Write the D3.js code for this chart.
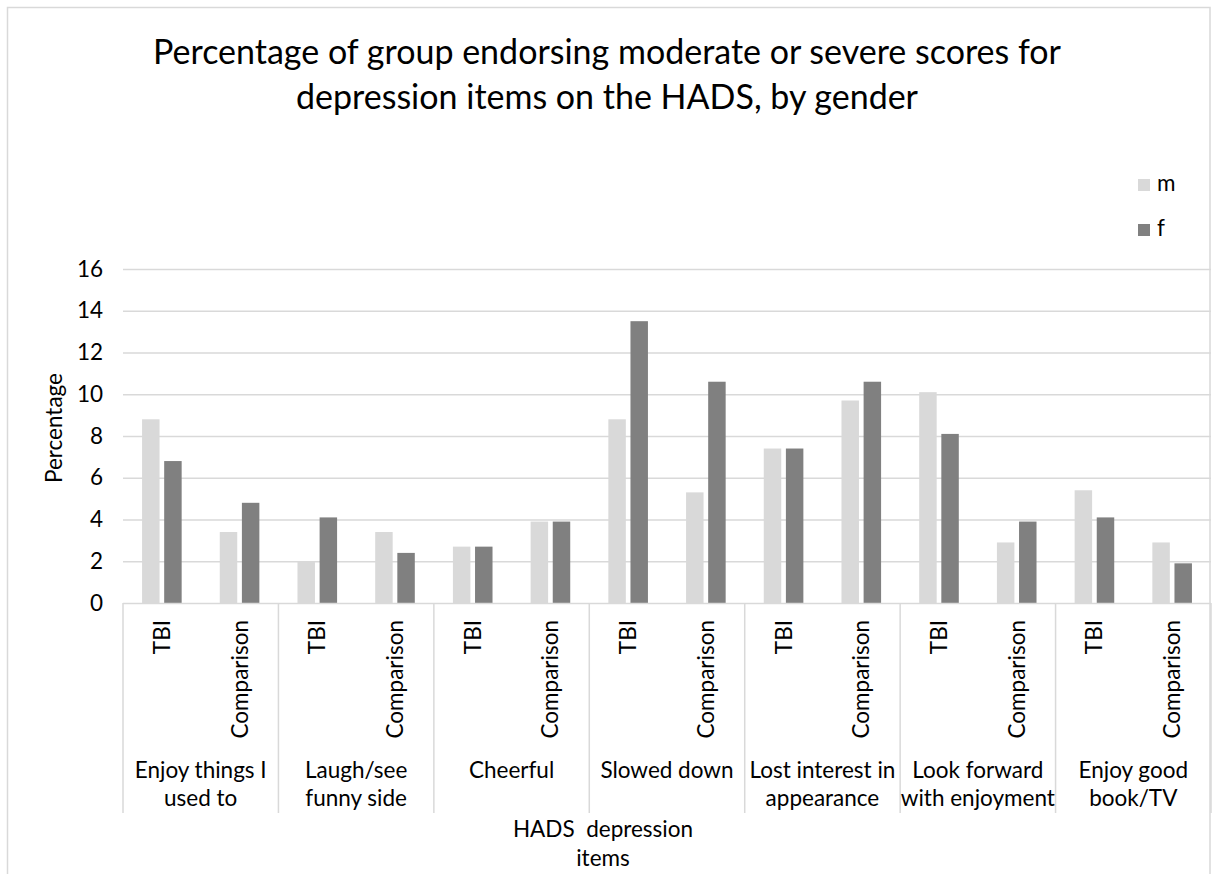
<!DOCTYPE html>
<html>
<head>
<meta charset="utf-8">
<script src="https://cdn.jsdelivr.net/npm/d3@7"></script>
<style>
  html, body { margin: 0; padding: 0; background: #fff; }
  svg { display: block; }
  text { font-family: Lato, "Noto Sans", sans-serif; fill: #000; }
</style>
</head>
<body>
<svg id="chart" width="1214" height="874"></svg>
<script>
// HADS depression items, split by group, percentage endorsing moderate/severe scores
const items = [
  ["Enjoy things I", "used to"],
  ["Laugh/see", "funny side"],
  ["Cheerful"],
  ["Slowed down"],
  ["Lost interest in", "appearance"],
  ["Look forward", "with enjoyment"],
  ["Enjoy good", "book/TV"]
];
const groups = ["TBI", "Comparison"];
const genders = ["m", "f"];
// values in item order, each item: TBI then Comparison
const maleValues   = [8.8, 3.4, 2.0, 3.4, 2.7, 3.9, 8.8, 5.3, 7.4, 9.7, 10.1, 2.9, 5.4, 2.9];
const femaleValues = [6.8, 4.8, 4.1, 2.4, 2.7, 3.9, 13.5, 10.6, 7.4, 10.6, 8.1, 3.9, 4.1, 1.9];
const yTicks = [0, 2, 4, 6, 8, 10, 12, 14, 16];
const colors = { m: "#d9d9d9", f: "#808080" };

const svg = d3.select("#chart");
const plot = { left: 123, right: 1211, top: 269, bottom: 603 };

// outer chart frame
svg.append("rect")
  .attr("x", 7.5).attr("y", 7.5).attr("width", 1202.5).attr("height", 900)
  .attr("fill", "none").attr("stroke", "#d9d9d9").attr("stroke-width", 1.5);

// title
const title = svg.append("text").attr("text-anchor", "middle").style("font-size", "34px");
title.append("tspan").attr("x", 607).attr("y", 64).text("Percentage of group endorsing moderate or severe scores for");
title.append("tspan").attr("x", 607).attr("y", 109).text("depression items on the HADS, by gender");

// slots: one per item/group pair
const slots = [];
items.forEach((it, i) => groups.forEach((g, j) => slots.push({ item: i, group: g, key: i + "-" + g })));

const y = d3.scaleLinear().domain([0, 16]).range([plot.bottom, plot.top]);
const xItem = d3.scaleBand().domain(d3.range(items.length)).range([plot.left, plot.right]).padding(0);
const xSlot = d3.scaleBand().domain(slots.map(s => s.key)).range([plot.left, plot.right]).padding(0);
const pairW = 39.6;
const xGender = d3.scaleBand().domain(genders)
  .range([(xSlot.bandwidth() - pairW) / 2, (xSlot.bandwidth() + pairW) / 2])
  .paddingInner(0.21).paddingOuter(0);

// gridlines
svg.append("g")
  .attr("transform", `translate(${plot.left},0)`)
  .call(d3.axisLeft(y).tickValues(yTicks.slice(1)).tickSize(-(plot.right - plot.left)).tickFormat(""))
  .call(g => g.select(".domain").remove())
  .call(g => g.selectAll("line").attr("stroke", "#d9d9d9").attr("stroke-width", 1.3));

// y tick labels
svg.append("g")
  .attr("transform", `translate(103,0)`)
  .call(d3.axisLeft(y).tickValues(yTicks).tickSize(0).tickPadding(0).tickFormat(d3.format("d")))
  .call(g => g.select(".domain").remove())
  .call(g => g.selectAll("text").style("font-size", "22.5px").attr("fill", "#000").style("font-family", "Lato, sans-serif"));

// y axis title
svg.append("text")
  .attr("transform", "translate(62,428) rotate(-90)")
  .attr("text-anchor", "middle")
  .style("font-size", "22.5px")
  .text("Percentage");

// bars
const rows = slots.map((s, i) => ({ key: s.key, m: maleValues[i], f: femaleValues[i] }));
const slotG = svg.append("g").selectAll("g").data(rows).join("g")
  .attr("transform", d => `translate(${xSlot(d.key)},0)`);
slotG.selectAll("rect").data(d => genders.map(k => ({ k, v: d[k] }))).join("rect")
  .attr("x", d => xGender(d.k))
  .attr("width", xGender.bandwidth())
  .attr("y", d => y(d.v))
  .attr("height", d => y(0) - y(d.v))
  .attr("fill", d => colors[d.k]);

// category axis baseline
svg.append("line")
  .attr("x1", plot.left).attr("x2", plot.right).attr("y1", plot.bottom + 0.5).attr("y2", plot.bottom + 0.5)
  .attr("stroke", "#d9d9d9").attr("stroke-width", 1.5);

// separators between items
const seps = d3.range(items.length + 1).map(i => i < items.length ? xItem(i) : plot.right);
svg.append("g").selectAll("line").data(seps).join("line")
  .attr("x1", d => d).attr("x2", d => d)
  .attr("y1", plot.bottom).attr("y2", 813)
  .attr("stroke", "#d9d9d9").attr("stroke-width", 1.5);

// group labels (rotated)
svg.append("g").selectAll("text").data(slots).join("text")
  .attr("transform", d => `translate(${xSlot(d.key) + xSlot.bandwidth() / 2 + 8},620) rotate(-90)`)
  .attr("text-anchor", "end")
  .style("font-size", "22.5px")
  .text(d => d.group);

// item labels
const itemText = svg.append("g").selectAll("text").data(items).join("text")
  .attr("text-anchor", "middle")
  .style("font-size", "22.5px");
itemText.selectAll("tspan").data((d, i) => d.map(line => ({ line, i }))).join("tspan")
  .attr("x", d => xItem(d.i) + xItem.bandwidth() / 2)
  .attr("y", (d, j) => 778 + j * 28)
  .text(d => d.line);

// x axis title
const xTitle = svg.append("text").attr("text-anchor", "middle").style("font-size", "22.5px");
["HADS\u00a0\u00a0depression", "items"].forEach((t, j) => {
  xTitle.append("tspan").attr("x", 603).attr("y", 837 + j * 29).text(t);
});

// legend
const legend = svg.append("g").selectAll("g").data(genders).join("g")
  .attr("transform", (d, i) => `translate(1138,${179 + i * 45})`);
legend.append("rect").attr("width", 12).attr("height", 12).attr("fill", d => colors[d]);
legend.append("text").attr("x", 19).attr("y", 12).style("font-size", "22.5px").text(d => d);
</script>
</body>
</html>
